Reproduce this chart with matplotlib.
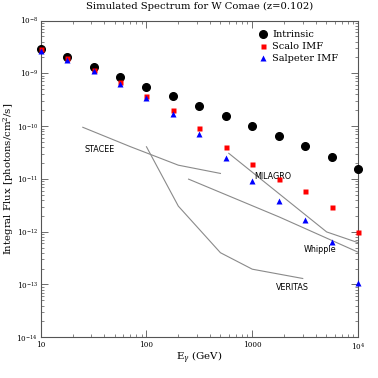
import numpy as np
import matplotlib
matplotlib.use("Agg")
import matplotlib.pyplot as plt
from matplotlib.ticker import FixedLocator, FixedFormatter, LogLocator, NullFormatter

plt.rcParams['font.family'] = ['DejaVu Serif']
plt.rcParams['mathtext.fontset'] = 'dejavuserif'

# energies (GeV), quarter-decade steps
energy = [10, 17.8, 31.6, 56.2, 100, 178, 316, 562, 1000, 1778, 3162, 5623, 10000]

intrinsic = [2.9e-9, 2.0e-9, 1.32e-9, 8.5e-10, 5.6e-10, 3.7e-10, 2.4e-10,
             1.56e-10, 1.0e-10, 6.4e-11, 4.2e-11, 2.6e-11, 1.55e-11]
scalo = [2.85e-9, 1.94e-9, 1.16e-9, 6.9e-10, 3.7e-10, 2.0e-10, 9.1e-11,
         3.95e-11, 1.9e-11, 1.0e-11, 5.9e-12, 3.0e-12, 9.8e-13]
salpeter = [2.7e-9, 1.8e-9, 1.1e-9, 6.4e-10, 3.46e-10, 1.7e-10, 7.0e-11,
            2.5e-11, 9.1e-12, 3.8e-12, 1.65e-12, 6.3e-13, 1.05e-13]

# instrument sensitivity curves
stacee_e = [25, 70, 200, 500]
stacee_f = [9.5e-11, 4.1e-11, 1.82e-11, 1.27e-11]
veritas_e = [100, 200, 500, 1000, 3000]
veritas_f = [4.06e-11, 3.05e-12, 4.0e-13, 1.95e-13, 1.3e-13]
whipple_e = [250, 1800, 10000]
whipple_f = [9.9e-12, 1.9e-12, 4.1e-13]
milagro_e = [600, 5050, 10000]
milagro_f = [3.05e-11, 9.9e-13, 6.2e-13]

x_ticks = [10, 100, 1000, 10000]
x_ticklabels = ['10', '100', '1000', r'$10^4$']
y_ticks = [1e-14, 1e-13, 1e-12, 1e-11, 1e-10, 1e-9, 1e-8]
y_ticklabels = [r'$10^{-14}$', r'$10^{-13}$', r'$10^{-12}$', r'$10^{-11}$',
                r'$10^{-10}$', r'$10^{-9}$', r'$10^{-8}$']

fig = plt.figure(figsize=(3.78, 3.78), dpi=100)
ax = fig.add_axes([0.1077, 0.1077, 0.8395, 0.838])

lc = '#8a8a8a'
for e, f in [(stacee_e, stacee_f), (veritas_e, veritas_f),
             (whipple_e, whipple_f), (milagro_e, milagro_f)]:
    ax.plot(e, f, color=lc, lw=0.8)

ax.plot(energy, intrinsic, 'o', color='black', ms=5.5, label='Intrinsic', clip_on=False, zorder=5)
ax.plot(energy, scalo, 's', color='red', ms=3.6, mec='none', label='Scalo IMF', clip_on=False, zorder=6)
ax.plot(energy, salpeter, '^', color='blue', ms=4.2, mec='none', label='Salpeter IMF', clip_on=False, zorder=7)

lab = dict(family='DejaVu Sans', fontsize=5.8, ha='center', va='center')
ax.text(36, 3.6e-11, 'STACEE', **lab)
ax.text(1580, 1.1e-11, 'MILAGRO', **lab)
ax.text(4400, 4.7e-13, 'Whipple', **lab)
ax.text(2390, 8.9e-14, 'VERITAS', **lab)

ax.set_xscale('log')
ax.set_yscale('log')
ax.set_xlim(10, 1e4)
ax.set_ylim(1e-14, 1e-8)

ax.xaxis.set_major_locator(FixedLocator(x_ticks))
ax.xaxis.set_major_formatter(FixedFormatter(x_ticklabels))
ax.xaxis.set_minor_locator(LogLocator(base=10, subs=np.arange(2, 10)))
ax.xaxis.set_minor_formatter(NullFormatter())
ax.yaxis.set_major_locator(FixedLocator(y_ticks))
ax.yaxis.set_major_formatter(FixedFormatter(y_ticklabels))
ax.yaxis.set_minor_locator(LogLocator(base=10, subs=np.arange(2, 10), numticks=10))
ax.yaxis.set_minor_formatter(NullFormatter())

ax.tick_params(which='both', direction='in', top=True, right=True, colors='#555555',
               labelcolor='black', labelsize=5.2)
ax.tick_params(axis='y', pad=1.8)
ax.tick_params(axis='x', pad=3)
ax.tick_params(which='major', length=5, width=0.6)
ax.tick_params(which='minor', length=2.5, width=0.5)
for s in ax.spines.values():
    s.set_color('#555555')
    s.set_linewidth(0.8)

ax.set_title('Simulated Spectrum for W Comae (z=0.102)', fontsize=7.2, pad=8)
ax.set_xlabel(r'E$_\gamma$ (GeV)', fontsize=7.4, va='center')
ax.set_ylabel(r'Integral Flux [photons/cm$^2$/s]', fontsize=7.3, va='center')
ax.xaxis.set_label_coords(0.5, -0.066)
ax.yaxis.set_label_coords(-0.1, 0.5)

ax.legend(loc='upper right', bbox_to_anchor=(0.968, 1.0), frameon=False, fontsize=7,
          handletextpad=0.3, borderaxespad=0.6, labelspacing=0.3, handlelength=1.2)

fig.savefig('out.png', dpi=100)
